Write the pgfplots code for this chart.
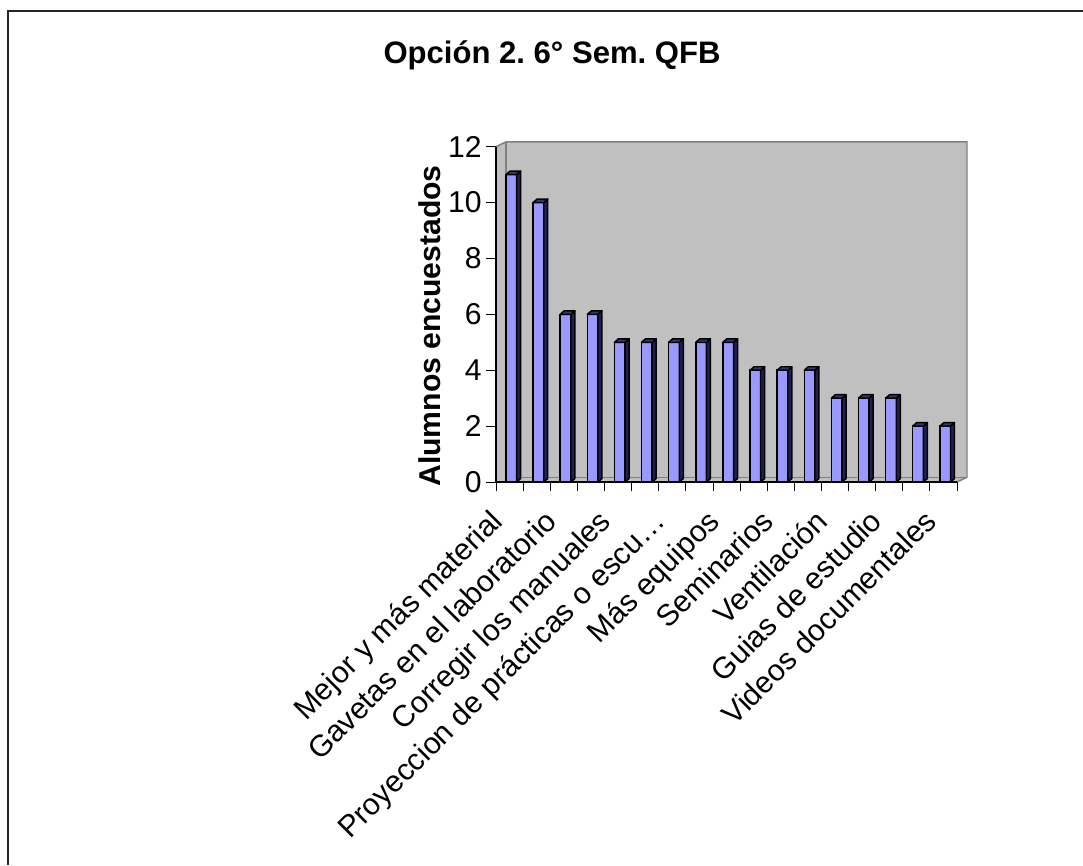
\documentclass[border=0pt]{standalone}
\usepackage{fontspec}
\setmainfont{Liberation Sans}
\usepackage{pgfplots}
\usepackage{pgfplotstable}
\pgfplotsset{compat=1.18}
\frenchspacing

\definecolor{wall}{RGB}{192,192,192}
\definecolor{edge}{RGB}{128,128,128}
\definecolor{barfront}{RGB}{153,153,255}
\definecolor{barside}{RGB}{32,32,84}
\definecolor{bartop}{RGB}{52,52,118}

% Respuestas: posición de la categoría y número de alumnos
\pgfplotstableread{
x    v
0.5  11
1.5  10
2.5  6
3.5  6
4.5  5
5.5  5
6.5  5
7.5  5
8.5  5
9.5  4
10.5 4
11.5 4
12.5 3
13.5 3
14.5 3
15.5 2
16.5 2
}\respuestas

% Caras lateral y superior de cada barra (efecto 3D)
\pgfdeclareplotmark{bar3d}{%
  \pgfmathsetmacro\barh{\val*20.958}%
  \pgfsetlinewidth{1.1pt}%
  \pgfsetstrokecolor{black}%
  \pgfsetroundjoin
  \pgfsetfillcolor{barside}%
  \pgfpathmoveto{\pgfpoint{5.3pt}{0pt}}%
  \pgfpathlineto{\pgfpoint{8.3pt}{2.6pt}}%
  \pgfpathlineto{\pgfpoint{8.3pt}{2.6pt-\barh pt}}%
  \pgfpathlineto{\pgfpoint{5.3pt}{-\barh pt}}%
  \pgfpathclose
  \pgfusepath{fill,stroke}%
  \pgfsetfillcolor{bartop}%
  \pgfpathmoveto{\pgfpoint{-2.7pt}{0pt}}%
  \pgfpathlineto{\pgfpoint{5.3pt}{0pt}}%
  \pgfpathlineto{\pgfpoint{8.3pt}{2.6pt}}%
  \pgfpathlineto{\pgfpoint{0.3pt}{2.6pt}}%
  \pgfpathclose
  \pgfusepath{fill,stroke}%
}

\begin{document}
\begin{tikzpicture}
\path[use as bounding box] (0,0) rectangle (812.25pt,648.75pt);
\draw[line width=1.5pt, black!85] (6pt,0) -- (6pt,640.5pt) -- (812.25pt,640.5pt);

\node[anchor=base, font=\fontsize{23.3pt}{28pt}\selectfont\bfseries]
  at (414pt,600.75pt) {Opción 2. 6° Sem. QFB};

\node[rotate=90, anchor=base, font=\fontsize{22.6pt}{27pt}\selectfont\bfseries]
  at (330pt,404.25pt) {Alumnos encuestados};

\begin{axis}[
  at={(372pt,287.25pt)}, anchor=origin,
  x=20.338pt, y=20.958pt,
  xmin=0, xmax=17, ymin=0, ymax=12,
  clip=false, axis on top,
  axis lines*=left,
  axis line style={black, line width=0.9pt, -},
  tick align=outside,
  major tick length=7.5pt, minor tick length=7pt,
  ytick={0,2,...,12},
  ytick style={black, line width=0.6pt},
  xtick={0.5,2.5,...,16.5},
  xticklabels={Mejor y más material, Gavetas en el laboratorio,
    Corregir los manuales, Proyeccion de prácticas o escu…,
    Más equipos, Seminarios, Ventilación, Guias de estudio,
    Videos documentales},
  minor xtick={0,1,...,17},
  major x tick style={draw=none},
  minor x tick style={black, line width=0.6pt},
  /pgf/number format/assume math mode=true,
  yticklabel style={font=\fontsize{22.6pt}{27pt}\selectfont, inner sep=3pt},
  xticklabel style={font=\fontsize{22.6pt}{27pt}\selectfont,
    xshift=-9.5pt, yshift=-18pt, rotate=45, anchor=north east,
    inner sep=0pt, text height=0.74em, text depth=0.2em},
]
% paredes y piso
\fill[wall] ([shift={(7.5pt,3.6pt)}]axis cs:0,0) rectangle ([shift={(7.5pt,3.6pt)}]axis cs:17,12);
\fill[wall] (axis cs:0,0) -- (axis cs:0,12) -- ([shift={(7.5pt,3.6pt)}]axis cs:0,12)
  -- ([shift={(7.5pt,3.6pt)}]axis cs:0,0) -- cycle;
\fill[wall] (axis cs:0,0) -- (axis cs:17,0) -- ([shift={(7.5pt,3.6pt)}]axis cs:17,0)
  -- ([shift={(7.5pt,3.6pt)}]axis cs:0,0) -- cycle;
\draw[edge, line width=1.1pt] (axis cs:0,12) -- ([shift={(7.5pt,3.6pt)}]axis cs:0,12)
  -- ([shift={(7.5pt,3.6pt)}]axis cs:17,12) -- ([shift={(7.5pt,3.6pt)}]axis cs:17,0)
  -- (axis cs:17,0);
\draw[edge, line width=0.9pt] ([shift={(7.5pt,3.6pt)}]axis cs:0,12)
  -- ([shift={(7.5pt,3.6pt)}]axis cs:0,0) -- ([shift={(7.5pt,3.6pt)}]axis cs:17,0);

% barras
\addplot[ybar, bar width=8pt, bar shift=1.3pt, fill=barfront, draw=black,
  line width=1.1pt] table[x=x, y=v] {\respuestas};
\addplot[scatter, only marks, mark=bar3d,
  visualization depends on={rawy \as \val}] table[x=x, y=v] {\respuestas};
\end{axis}
\end{tikzpicture}
\end{document}
